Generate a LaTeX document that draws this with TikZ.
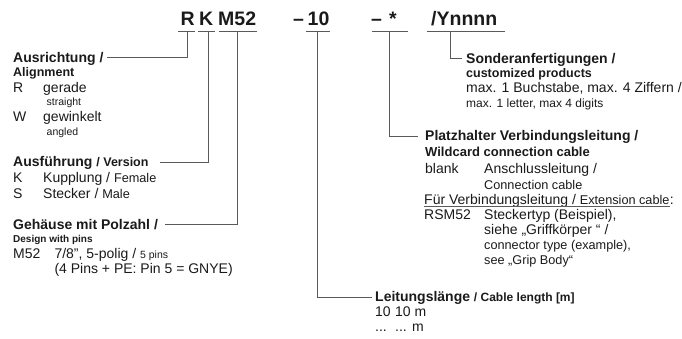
\documentclass[tikz,border=0pt]{standalone}
\usepackage{fontspec}
\setmainfont{Liberation Sans}
\definecolor{textc}{HTML}{1A1A1A}
\definecolor{linec}{HTML}{5A5A5A}
\newcommand\cdf{\fontsize{19.5}{21}\selectfont\bfseries}
\newcommand\hdf{\fontsize{14}{16}\selectfont\bfseries}
\newcommand\sbf{\fontsize{12.5}{14}\selectfont\bfseries}
\newcommand\tbf{\fontsize{10}{12}\selectfont\bfseries}
\newcommand\rgf{\fontsize{14}{16}\selectfont}
\newcommand\enf{\fontsize{12.7}{14}\selectfont}
\newcommand\enff{\fontsize{12}{14}\selectfont}
\newcommand\smf{\fontsize{10.5}{12}\selectfont}
\begin{document}
\begin{tikzpicture}[x=1pt,y=-1pt,
  txt/.style={inner sep=0pt, anchor=base west, text=textc},
  cd/.style={txt, font=\cdf},
  ln/.style={draw=linec, line width=0.9pt}]
\useasboundingbox (0,0) rectangle (682,338);
% code row
\node[cd] (cR)  at (180.5,25.5) {R};
\node[cd] (cK)  at (199,25.5) {K};
\node[cd] (cM)  at (218,25.5) {M52};
\node[cd] (cD1) at (293,25.5) {–};
\node[cd] (c10) at (307.5,25.5) {10};
\node[cd] (cD2) at (371,25.5) {–};
\node[cd] (cS)  at (389,25.5) {*};
\node[cd] (cY)  at (431,25.5) {/Ynnnn};
% underlines
\coordinate (uRa) at (178,31.5);   \coordinate (uRb) at (195,31.5);
\coordinate (uKa) at (198,31.5);   \coordinate (uKb) at (215,31.5);
\coordinate (uMa) at (218.5,31.5); \coordinate (uMb) at (257,31.5);
\coordinate (u1a) at (306,31.5);   \coordinate (u1b) at (330,31.5);
\coordinate (uSa) at (372,31.5);   \coordinate (uSb) at (408,31.5);
\coordinate (uYa) at (427,31.5);   \coordinate (uYb) at (505,31.5);
\draw[ln] (uRa) -- (uRb);
\draw[ln] (uKa) -- (uKb);
\draw[ln] (uMa) -- (uMb);
\draw[ln] (u1a) -- (u1b);
\draw[ln] (uSa) -- (uSb);
\draw[ln] (uYa) -- (uYb);
\coordinate (uR) at (187.7,31.5);
\coordinate (uK) at (208.3,31.5);
\coordinate (uM) at (237.7,31.5);
\coordinate (u1) at (317.7,31.5);
\coordinate (uS) at (389.3,31.5);
\coordinate (uY) at (450,31.5);
% connector ends
\coordinate (eAus)  at (107,57.5);
\coordinate (eAusf) at (160,162);
\coordinate (eGeh)  at (165,224);
\coordinate (eLeit) at (372,297);
\coordinate (ePl)   at (418,136.5);
\coordinate (eSo)   at (462,58.5);
\draw[ln] (uR) |- (eAus);
\draw[ln] (uK) |- (eAusf);
\draw[ln] (uM) |- (eGeh);
\draw[ln] (u1) |- (eLeit);
\draw[ln] (uS) |- (ePl);
\draw[ln] (uY) |- (eSo);
% left column
\node[txt, font=\hdf] (hAus) at (13,62.5) {Ausrichtung /};
\node[txt, font=\sbf] (hAli) at (13,76.5) {Alignment};
\node[txt, font=\rgf] (kR) at (13,92.7) {R};
\node[txt, font=\rgf] (tR) at (43,92.7) {gerade};
\node[txt, font=\smf] (tRe) at (46.5,105.5) {straight};
\node[txt, font=\rgf] (kW) at (13,121.7) {W};
\node[txt, font=\rgf] (tW) at (43,121.7) {gewinkelt};
\node[txt, font=\smf] (tWe) at (46.5,135.5) {angled};
\node[txt, font=\hdf] (hAusf) at (13,166) {Ausführung {\fontsize{12.5}{14}\selectfont / Version}};
\node[txt, font=\rgf] (kK) at (13,182.5) {K};
\node[txt, font=\rgf] (tK) at (43,182.5) {Kupplung / {\enf Female}};
\node[txt, font=\rgf] (kS) at (13,198) {S};
\node[txt, font=\rgf] (tS) at (43,198) {Stecker / {\enf Male}};
\node[txt, font=\hdf] (hGeh) at (13,229) {Gehäuse mit Polzahl /};
\node[txt, font=\tbf] (hDes) at (13,242.5) {Design with pins};
\node[txt, font=\rgf] (kM) at (13,258) {M52};
\node[txt, font=\rgf] (tM) at (54.3,258) {7/8", 5-polig / {\smf 5 pins}};
\node[txt, font=\rgf] (tM2) at (54.3,273.5) {(4 Pins + PE: Pin 5 = GNYE)};
% cable length
\node[txt, font=\hdf] (hLeit) at (375,301) {Leitungslänge {\fontsize{12}{14}\selectfont / Cable length [m]}};
\node[txt, font=\rgf] (k10) at (375,316.5) {10};
\node[txt, font=\rgf] (t10) at (395,316.5) {10 m};
\node[txt, font=\rgf] (kDots) at (375,331.5) {...};
\node[txt, font=\rgf] (tDots) at (395,331.5) {... m};
% customized
\node[txt, font=\hdf] (hSo) at (466,63) {Sonderanfertigungen /};
\node[txt, font=\sbf] (hCu) at (466,77.3) {customized products};
\node[txt, font=\rgf] (tSo) at (466,92.7) {max. 1 Buchstabe, max. 4 Ziffern /};
\node[txt, font=\enff] (tSoe) at (466,107.3) {max. 1 letter, max 4 digits};
% wildcard
\node[txt, font=\hdf] (hPl) at (425,140.5) {Platzhalter Verbindungsleitung /};
\node[txt, font=\fontsize{13}{15}\selectfont\bfseries] (hWi) at (425,156.5) {Wildcard connection cable};
\node[txt, font=\rgf] (kBl) at (425,173.5) {blank};
\node[txt, font=\rgf] (tBl) at (484,173.5) {Anschlussleitung /};
\node[txt, font=\enf] (tBle) at (484,189) {Connection cable};
\node[txt, font=\rgf] (tFu) at (424,204) {Für Verbindungsleitung / {\enf Extension cable}};
\node[txt, font=\rgf] (tFuc) at (tFu.base east) {:};
\draw[draw=linec, line width=0.7pt] ([yshift=-2.2pt]tFu.base west) -- ([yshift=-2.2pt]tFu.base east);
\node[txt, font=\rgf] (kRS) at (424,219.5) {RSM52};
\node[txt, font=\rgf] (tRS) at (484,219.5) {Steckertyp (Beispiel),};
\node[txt, font=\rgf] (tRS2) at (484,234.5) {siehe „Griffkörper “ /};
\node[txt, font=\enf] (tRS3) at (484,249.5) {connector type (example),};
\node[txt, font=\enf] (tRS4) at (484,264.5) {see „Grip Body“};
\end{tikzpicture}
\end{document}
